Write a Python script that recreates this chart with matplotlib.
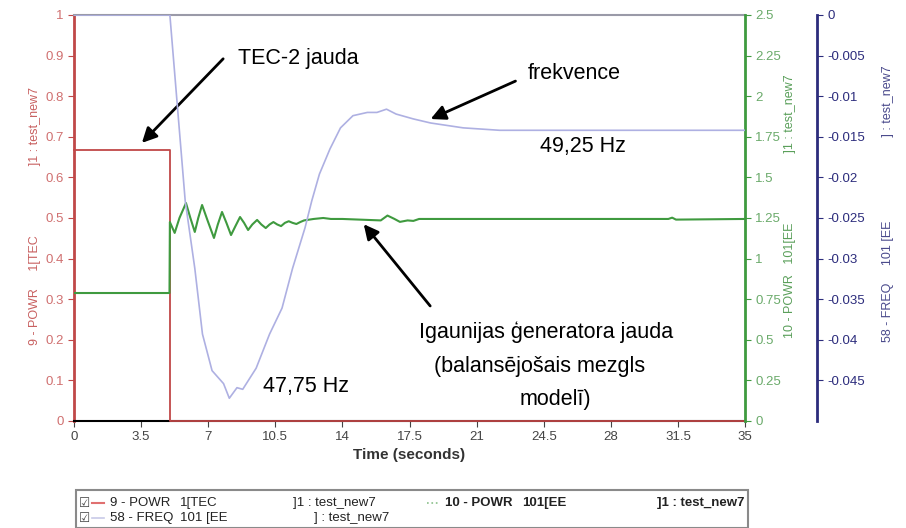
import matplotlib
matplotlib.use('Agg')
import matplotlib.pyplot as plt
from matplotlib.lines import Line2D
from matplotlib.patches import Rectangle

plt.rcParams['font.family'] = ['Liberation Sans', 'DejaVu Sans']

# data
tec_t = [0, 5.0, 5.0, 35]
tec_p = [0.667, 0.667, 0.0, 0.0]

ee_t = [0, 4.98, 5.0, 5.25, 5.5, 5.84, 6.07, 6.3, 6.48, 6.68, 6.98, 7.3, 7.5, 7.72,
        7.95, 8.19, 8.42, 8.66, 8.87, 9.08, 9.3, 9.55, 9.77, 10.0, 10.2, 10.4, 10.6,
        10.8, 11.0, 11.2, 11.4, 11.6, 11.8, 12.0, 12.5, 13.0, 13.4, 14.0, 16.0, 16.35,
        16.7, 17.0, 17.4, 17.7, 18.0, 31.0, 31.2, 31.4, 35]
ee_p = [0.788, 0.788, 1.225, 1.158, 1.25, 1.342, 1.25, 1.164, 1.25, 1.33, 1.23, 1.127,
        1.21, 1.287, 1.22, 1.145, 1.2, 1.256, 1.22, 1.176, 1.21, 1.238, 1.21, 1.188,
        1.21, 1.225, 1.21, 1.2, 1.22, 1.23, 1.22, 1.213, 1.225, 1.235, 1.244, 1.25,
        1.244, 1.244, 1.235, 1.265, 1.245, 1.226, 1.235, 1.232, 1.244, 1.244, 1.252,
        1.24, 1.244]

freq_t = [0, 5.0, 5.37, 5.8, 6.3, 6.7, 7.2, 7.8, 8.1, 8.5, 8.8, 9.5, 10.2, 10.85,
          11.4, 12.05, 12.4, 12.8, 13.35, 13.9, 14.55, 15.3, 15.8, 16.3, 16.8, 17.7,
          18.6, 20.3, 22.2, 35]
freq_d = [0, 0, -0.0106, -0.0229, -0.0312, -0.0393, -0.0438, -0.0454, -0.0472,
          -0.0459, -0.0461, -0.0435, -0.0393, -0.0361, -0.0312, -0.0262, -0.0229,
          -0.0196, -0.0165, -0.0139, -0.0124, -0.0120, -0.0120, -0.0116, -0.0122,
          -0.0128, -0.0133, -0.0139, -0.0142, -0.0142]

x_ticks = [0, 3.5, 7, 10.5, 14, 17.5, 21, 24.5, 28, 31.5, 35]
x_labels = ['0', '3.5', '7', '10.5', '14', '17.5', '21', '24.5', '28', '31.5', '35']
red_ticks = [0, 0.1, 0.2, 0.3, 0.4, 0.5, 0.6, 0.7, 0.8, 0.9, 1]
red_labels = ['0', '0.1', '0.2', '0.3', '0.4', '0.5', '0.6', '0.7', '0.8', '0.9', '1']
green_ticks = [0, 0.25, 0.5, 0.75, 1, 1.25, 1.5, 1.75, 2, 2.25, 2.5]
green_labels = ['0', '0.25', '0.5', '0.75', '1', '1.25', '1.5', '1.75', '2', '2.25', '2.5']
blue_ticks = [0, -0.005, -0.01, -0.015, -0.02, -0.025, -0.03, -0.035, -0.04, -0.045]
blue_labels = ['0', '-0.005', '-0.01', '-0.015', '-0.02', '-0.025', '-0.03', '-0.035',
               '-0.04', '-0.045']

RED = '#c04848'
GREEN = '#3f9a3f'
LAV = '#aeb0e2'
NAVY = '#2c2c7c'

fig = plt.figure(figsize=(9.06, 5.28), dpi=100)
ax = fig.add_axes([0.0817, 0.2027, 0.7406, 0.7689])
ax2 = ax.twinx()
ax3 = ax.twinx()
ax3.spines['right'].set_position(('axes', 1.1073))

ax.plot(tec_t, tec_p, color=RED, lw=1.3, zorder=3, clip_on=False)
ax3.plot(freq_t, freq_d, color=LAV, lw=1.2)
ax2.plot(ee_t, ee_p, color=GREEN, lw=1.5)

ax.set_xlim(0, 35)
ax.set_ylim(0, 1)
ax2.set_ylim(0, 2.5)
ax3.set_ylim(-0.05, 0)

ax.set_xticks(x_ticks, x_labels)
ax.set_yticks(red_ticks, red_labels)
ax2.set_yticks(green_ticks, green_labels)
ax3.set_yticks(blue_ticks, blue_labels)

ax.tick_params(axis='x', colors='#444444', labelsize=9.5, length=4)
ax.tick_params(axis='y', colors='#d07070', labelsize=9.5, length=4)
ax2.tick_params(axis='y', colors='#6aaa6a', labelsize=9.5, length=4)
ax3.tick_params(axis='y', colors=NAVY, labelsize=9.5, length=4)
ax.tick_params(axis='y', color=RED)
ax2.tick_params(axis='y', color=GREEN)

for a in (ax, ax2, ax3):
    for s in a.spines.values():
        s.set_visible(False)
ax.spines['left'].set_visible(True)
ax.spines['left'].set_color(RED)
ax.spines['left'].set_linewidth(2)
ax.spines['bottom'].set_visible(True)
ax.spines['bottom'].set_color('black')
ax.spines['bottom'].set_linewidth(1.5)
ax.spines['top'].set_visible(True)
ax.spines['top'].set_color('#9a9aa8')
ax.spines['top'].set_linewidth(1.5)
ax2.spines['right'].set_visible(True)
ax2.spines['right'].set_color(GREEN)
ax2.spines['right'].set_linewidth(2)
ax3.spines['right'].set_visible(True)
ax3.spines['right'].set_color(NAVY)
ax3.spines['right'].set_linewidth(2)

ax.set_xlabel('Time (seconds)', fontsize=11, fontweight='bold', color='#333333', labelpad=3)

fig.text(0.039, 0.59, '9 - POWR     1[TEC                    ]1 : test_new7', rotation=90,
         color='#c86060', fontsize=9, ha='center', va='center')
fig.text(0.872, 0.61, '10 - POWR   101[EE                    ]1 : test_new7', rotation=90,
         color='#5a9f5a', fontsize=9, ha='center', va='center')
fig.text(0.980, 0.615, '58 - FREQ     101 [EE                        ] : test_new7', rotation=90,
         color='#4a4a8c', fontsize=9, ha='center', va='center')

# annotations
big = 15.5
ax.annotate('', xy=(3.44, 0.680), xytext=(7.88, 0.897),
            arrowprops=dict(arrowstyle='-|>', lw=2, color='black', mutation_scale=22))
ax.text(8.55, 0.894, 'TEC-2 jauda', fontsize=big, ha='left', va='center')
ax.annotate('', xy=(18.47, 0.741), xytext=(23.16, 0.840),
            arrowprops=dict(arrowstyle='-|>', lw=2, color='black', mutation_scale=22))
ax.text(23.68, 0.857, 'frekvence', fontsize=big, ha='left', va='center')
ax.text(24.31, 0.677, '49,25 Hz', fontsize=big, ha='left', va='center')
ax.text(9.86, 0.086, '47,75 Hz', fontsize=big, ha='left', va='center')
ax.annotate('', xy=(15.02, 0.490), xytext=(18.67, 0.278),
            arrowprops=dict(arrowstyle='-|>', lw=2, color='black', mutation_scale=22))
ax.text(24.62, 0.219, 'Igaunijas ģeneratora jauda', fontsize=big, ha='center', va='center')
ax.text(24.3, 0.133, '(balansējošais mezgls', fontsize=big, ha='center', va='center')
ax.text(25.1, 0.052, 'modelī)', fontsize=big, ha='center', va='center')

# legend panel below the chart
W, H = 906.0, 528.0
fig.patches.append(Rectangle((76 / W, 0.0), (748 - 76) / W, (528 - 490) / H,
                             transform=fig.transFigure, fill=False,
                             edgecolor='#8a8a8a', lw=1.5))
rows = [503, 518]
for yy in rows:
    fig.text(79 / W, 1 - yy / H, '☑', fontsize=9, color='#444444', va='center',
             family=['DejaVu Sans'])
fig.lines.append(Line2D([92 / W, 104 / W], [1 - rows[0] / H] * 2, transform=fig.transFigure,
                        color='#e07070', lw=1.5))
fig.lines.append(Line2D([92 / W, 104 / W], [1 - rows[1] / H] * 2, transform=fig.transFigure,
                        color='#c8cae8', lw=1.2))
fig.lines.append(Line2D([427 / W, 440 / W], [1 - rows[0] / H] * 2, transform=fig.transFigure,
                        color='#8ac08a', lw=1.2, ls=':'))
lg = dict(fontsize=9.5, color='#222222', va='center')
fig.text(110 / W, 1 - rows[0] / H, '9 - POWR', **lg)
fig.text(180 / W, 1 - rows[0] / H, '1[TEC', **lg)
fig.text(293 / W, 1 - rows[0] / H, ']1 : test_new7', **lg)
fig.text(445 / W, 1 - rows[0] / H, '10 - POWR', fontweight='bold', **lg)
fig.text(522 / W, 1 - rows[0] / H, '101[EE', fontweight='bold', **lg)
fig.text(657 / W, 1 - rows[0] / H, ']1 : test_new7', fontweight='bold', **lg)
fig.text(110 / W, 1 - rows[1] / H, '58 - FREQ', **lg)
fig.text(180 / W, 1 - rows[1] / H, '101 [EE', **lg)
fig.text(314 / W, 1 - rows[1] / H, '] : test_new7', **lg)

fig.savefig('out.png', dpi=100)
